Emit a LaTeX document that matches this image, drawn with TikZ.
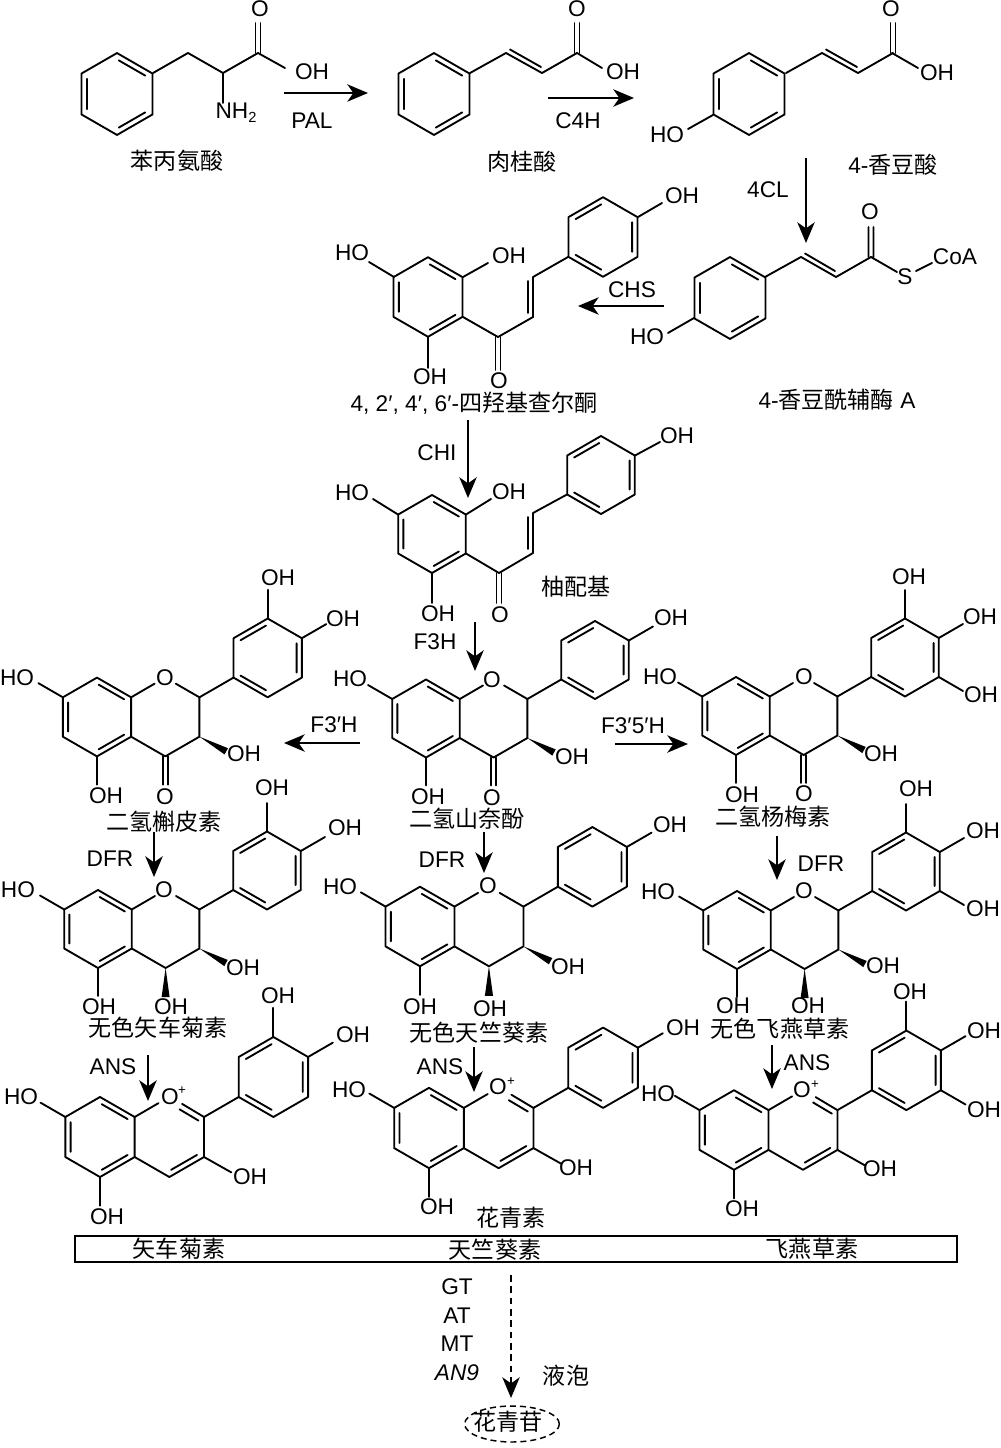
\documentclass[tikz,border=0pt]{standalone}
\usepackage{fontspec}
\setmainfont{Liberation Sans}
\newfontfamily\cjk{Noto Sans CJK SC}
\usetikzlibrary{arrows.meta,shapes.geometric}
\newcounter{lbc}
\tikzset{
  bond/.style={line width=1.4pt,line join=round,line cap=round},
  lbl/.style={inner sep=0pt,outer sep=0pt,anchor=center,font=\fontsize{17}{18}\selectfont},
  cn/.style={inner sep=0pt,outer sep=0pt,anchor=center,font=\fontsize{17.3}{18}\selectfont\cjk},
  rxn/.style={line width=1.4pt,-{Stealth[length=15.5pt,width=13pt,inset=4.5pt]}},
}
% labels
\newcommand\lab[3]{\stepcounter{lbc}\node[lbl] (t\arabic{lbc}) at (#1,#2) {#3};}
\newcommand\cnl[3]{\stepcounter{lbc}\node[cn] (t\arabic{lbc}) at (#1,#2) {#3};}
\newcommand\plus[2]{\stepcounter{lbc}\node[inner sep=0pt,font=\fontsize{10}{10}\selectfont] (t\arabic{lbc}) at (#1,#2) {+};}
\newcommand\arr[6][]{\coordinate (#2a) at (#3,#4); \coordinate (#2b) at (#5,#6); \draw[rxn,#1] (#2a) -- (#2b);}
% rings, drawn for R=39
\newcommand\hexcore{\draw[bond] (0,-39)--(33.8,-19.5)--(33.8,19.5)--(0,39)--(-33.8,19.5)--(-33.8,-19.5)--cycle;}
\newcommand\hexA{\hexcore\draw[bond] (1.7,-32)--(26.9,-17.5) (-28.6,-14.5)--(-28.6,14.5) (26.9,17.5)--(1.7,32);}
\newcommand\hexB{\hexcore\draw[bond] (-26.9,-17.5)--(-1.7,-32) (28.6,-14.5)--(28.6,14.5) (-26.9,17.5)--(-1.7,32);}
\newcommand\mol[4]{\begin{scope}[shift={(#1,#2)},scale=#3]#4\end{scope}}
% flavonoid parts, origin = centre of ring A
\newcommand\skel{\hexA
  \draw[bond] (-33.8,-19.5)--(-58,-33.5) (0,39)--(0,67) (101.4,-19.5)--(135.2,-39);
  \begin{scope}[shift={(169,-58.5)}]\hexB\end{scope}}
\newcommand\subT{\draw[bond] (169,-97.5)--(169,-126);}
\newcommand\subR{\draw[bond] (202.8,-78)--(227,-92);}
\newcommand\subRB{\draw[bond] (202.8,-39)--(227,-25);}
\newcommand\wedgeC{\fill (101.4,19.5)--(126.3,37.1)--(129.7,30.9)--cycle;}
\newcommand\ringC{\draw[bond] (33.8,-19.5)--(57,-33) (78,-33)--(101.4,-19.5)--(101.4,19.5)--(67.6,39)--(33.8,19.5);}
\newcommand\dihydro{\skel\ringC\wedgeC\draw[bond] (65,39)--(65,67) (70.2,39)--(70.2,67);}
\newcommand\leuco{\skel\ringC\wedgeC\fill (67.6,39)--(63.6,68)--(71.6,68)--cycle;}
\newcommand\antho{\skel
  \draw[bond] (33.8,-19.5)--(57,-33) (80,-32.3)--(101.4,-19.5)--(101.4,19.5)--(67.6,39)--(33.8,19.5);
  \draw[bond] (77.5,-27)--(96,-16) (94.5,17.5)--(69.3,32) (101.4,19.5)--(128,34.5);}
% acrylic chain, origin = ring vertex
\newcommand\chain{\draw[bond] (0,0)--(36,-20)--(72,0)--(107,-20);
  \draw[bond] (40,-23.5)--(71,-6);
  \draw[bond] (104.5,-20)--(104.5,-50) (109.5,-20)--(109.5,-50);}
\begin{document}
\begin{tikzpicture}[x=0.75pt,y=-0.75pt]
\useasboundingbox (0,0) rectangle (1000,1448);
% phenylalanine
\mol{117}{94}{1.05}{\hexA}
\draw[bond] (153,73)--(188,53)--(223,73)--(258,53)--(285,68) (223,73)--(223,103);
\draw[bond] (255.5,53)--(255.5,23) (260.5,53)--(260.5,23);
\lab{260}{9}{O}\lab{312}{72}{OH}\lab{236}{113}{NH\raisebox{-3pt}{\fontsize{11}{11}\selectfont 2}}
\cnl{177}{161}{苯丙氨酸}
% cinnamic acid
\mol{434}{94}{1.05}{\hexA}
\mol{470}{73}{1}{\chain\draw[bond] (107,-20)--(132,-5);}
\lab{577}{9}{O}\lab{623}{72}{OH}
\cnl{522}{162}{肉桂酸}
% coumaric acid
\mol{749}{94}{1.05}{\hexA}
\mol{786}{73}{1}{\chain\draw[bond] (106,-20)--(132,-5);}
\draw[bond] (713,115)--(688,129);
\lab{891}{9}{O}\lab{937}{73}{OH}\lab{667}{135}{HO}
\stepcounter{lbc}\node[lbl] (t\arabic{lbc}) at (893,165) {4-{\cjk\fontsize{17.3}{18}\selectfont 香豆酸}};
% coumaroyl-CoA
\mol{730}{298}{1.05}{\hexA}
\mol{765}{277}{1}{\draw[bond] (0,0)--(36,-20)--(71,0)--(106,-20);
  \draw[bond] (40,-23.5)--(70,-6);
  \draw[bond] (103.5,-20)--(103.5,-50) (108.5,-20)--(108.5,-50) (106,-20)--(132,-5);}
\draw[bond] (694,318)--(668,333) (916,271)--(932,263);
\lab{870}{212}{O}\lab{905}{277}{S}\lab{955}{257}{CoA}\lab{647}{337}{HO}
\stepcounter{lbc}\node[lbl] (t\arabic{lbc}) at (837,400) {4-{\cjk\fontsize{17.3}{18}\selectfont 香豆酰辅酶} A};
% tetrahydroxychalcone
\mol{428}{297}{1.02}{\hexA}
\mol{603}{237}{1.02}{\hexB}
\draw[bond] (394,277)--(369,262) (463,277)--(488,263) (428,337)--(428,368) (463,317)--(498,337)--(533,317)--(533,277)--(568,257) (638,217)--(662,203);
\draw[bond] (495.5,337)--(495.5,370) (500.5,337)--(500.5,370) (528,313)--(528,281);
\lab{352}{253}{HO}\lab{509}{256}{OH}\lab{430}{377}{OH}\lab{499}{381}{O}\lab{682}{196}{OH}
\stepcounter{lbc}\node[lbl] (t\arabic{lbc}) at (474,403) {4, 2′, 4′, 6′-{\cjk\fontsize{17.3}{18}\selectfont 四羟基查尔酮}};
% naringenin chalcone
\mol{432}{534}{1}{\hexA}
\mol{601}{475}{1}{\hexB}
\draw[bond] (398,514.5)--(373,499) (466,514.5)--(491,499) (432,573)--(432,603) (466,553.5)--(499,573)--(533,553)--(533,513)--(567,494.5) (635,455.5)--(660,442);
\draw[bond] (496.5,573)--(496.5,603) (501.5,573)--(501.5,603) (528,549)--(528,517);
\lab{352}{493}{HO}\lab{509}{492}{OH}\lab{438}{614}{OH}\lab{500}{615}{O}\lab{677}{436}{OH}
\cnl{576}{587}{柚配基}
% dihydroquercetin
\mol{97}{717}{1.01}{\dihydro\subT\subR}
\lab{17}{678}{HO}\lab{106}{796}{OH}\lab{165}{678}{O}\lab{165}{797}{O}\lab{244}{754}{OH}\lab{278}{578}{OH}\lab{343}{619}{OH}
\cnl{164}{822}{二氢槲皮素}
% dihydrokaempferol
\mol{426}{718.5}{1}{\dihydro\subR}
\lab{350}{679}{HO}\lab{428}{797}{OH}\lab{492}{680}{O}\lab{492}{798}{O}\lab{572}{757}{OH}\lab{671}{618}{OH}
\cnl{467}{819}{二氢山奈酚}
% dihydromyricetin
\mol{736}{716}{1}{\dihydro\subT\subR\subRB}
\lab{660}{677}{HO}\lab{742}{795}{OH}\lab{804}{677}{O}\lab{804}{794}{O}\lab{881}{754}{OH}\lab{909}{577}{OH}\lab{980}{617}{OH}\lab{981}{695}{OH}
\cnl{773}{817}{二氢杨梅素}
% leucocyanidin
\mol{98}{929}{1}{\leuco\subT\subR}
\lab{18}{890}{HO}\lab{99}{1007}{OH}\lab{164}{890}{O}\lab{243}{968}{OH}\lab{171}{1007}{OH}\lab{272}{788}{OH}\lab{345}{828}{OH}
\cnl{158}{1028}{无色矢车菊素}
% leucopelargonidin
\mol{420}{926.5}{1.02}{\leuco\subR}
\lab{340}{887}{HO}\lab{420}{1007}{OH}\lab{488}{886}{O}\lab{568}{967}{OH}\lab{490}{1009}{OH}\lab{670}{825}{OH}
\cnl{479}{1033}{无色天竺葵素}
% leucodelphinidin
\mol{737}{930}{1}{\leuco\subT\subR\subRB}
\lab{658}{892}{HO}\lab{733}{1006}{OH}\lab{804}{891}{O}\lab{883}{966}{OH}\lab{808}{1006}{OH}\lab{916}{789}{OH}\lab{983}{831}{OH}\lab{983}{909}{OH}
\cnl{780}{1029}{无色飞燕草素}
% cyanidin
\mol{100}{1137}{1.026}{\antho\subT\subR}
\lab{21}{1097}{HO}\lab{107}{1217}{OH}\lab{170}{1097}{O}\plus{182}{1091}\lab{250}{1177}{OH}\lab{278}{996}{OH}\lab{353}{1035}{OH}
% pelargonidin
\mol{429}{1128}{1.03}{\antho\subR}
\lab{349}{1090}{HO}\lab{437}{1207}{OH}\lab{498}{1087}{O}\plus{511}{1082}\lab{576}{1168}{OH}\lab{683}{1028}{OH}
% delphinidin
\mol{734}{1130}{1.02}{\antho\subT\subR\subRB}
\lab{658}{1094}{HO}\lab{742}{1209}{OH}\lab{802}{1090}{O}\plus{815}{1085}\lab{880}{1169}{OH}\lab{910}{992}{OH}\lab{984}{1031}{OH}\lab{984}{1110}{OH}
% reactions
\arr{pal}{284}{93}{368}{93}\lab{312}{121}{PAL}
\arr{cfh}{548}{98}{634}{98}\lab{578}{121}{C4H}
\arr{fcl}{806}{158}{806}{243}\lab{768}{190}{4CL}
\arr{chs}{664}{306}{578}{306}\lab{632}{290}{CHS}
\arr{chi}{468}{420}{468}{498}\lab{437}{453}{CHI}
\arr{fth}{475}{622}{475}{671}\lab{435}{642}{F3H}
\arr{fpq}{360}{743}{284}{743}\lab{334}{725}{F3′H}
\arr{fpm}{615}{744}{688}{744}\lab{633}{726}{F3′5′H}
\arr{dfa}{154}{832}{154}{877}\lab{110}{859}{DFR}
\arr{dfb}{484}{832}{484}{873}\lab{442}{860}{DFR}
\arr{dfc}{777}{836}{777}{880}\lab{821}{864}{DFR}
\arr{ana}{148}{1055}{148}{1101}\lab{113}{1067}{ANS}
\arr{anb}{474}{1047}{474}{1092}\lab{440}{1067}{ANS}
\arr{anc}{772}{1045}{772}{1089}\lab{807}{1063}{ANS}
% bottom
\cnl{511}{1218}{花青素}
\stepcounter{lbc}\node[draw,line width=1.4pt,inner sep=0pt,minimum width=661.5pt,minimum height=19.5pt] (bar) at (516,1249) {};
\cnl{179}{1249}{矢车菊素}\cnl{495}{1250}{天竺葵素}\cnl{812}{1249}{飞燕草素}
\lab{457}{1287}{GT}\lab{457}{1316}{AT}\lab{457}{1344}{MT}\lab{457}{1373}{\itshape AN9}
\cnl{566}{1376}{液泡}
\node[ellipse,draw,line width=1.1pt,dash pattern=on 4.5pt off 3pt,inner sep=0pt,minimum width=71pt,minimum height=27pt] (vac) at (512,1424) {};
\cnl{508}{1422}{花青苷}
\coordinate (dash) at (511,1275);
\coordinate (dashend) at (511,1398);
\draw[rxn,dash pattern=on 5pt off 3.5pt] (dash) -- (dashend);
\end{tikzpicture}
\end{document}
